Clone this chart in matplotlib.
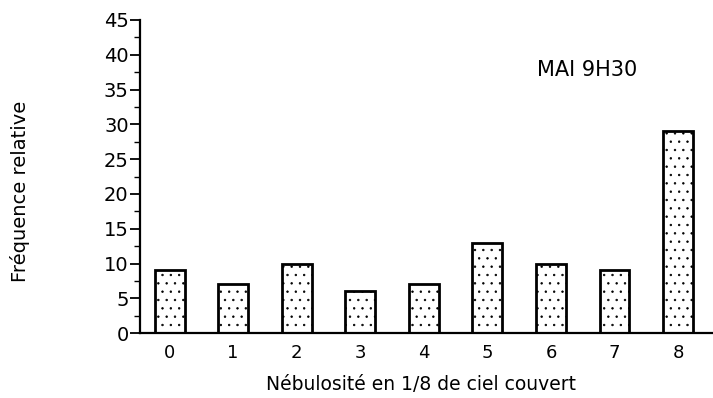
import matplotlib.pyplot as plt
import numpy as np

plt.rcParams['hatch.linewidth'] = 0.5
plt.rcParams['hatch.color'] = '#666666'

classes = ['0', '1', '2', '3', '4', '5', '6', '7', '8']
freq = [9, 7, 10, 6, 7, 13, 10, 9, 29]

fig = plt.figure(figsize=(7.13, 3.98), dpi=100)
ax = fig.add_axes([0.196, 0.163, 0.804, 0.787])

x = np.arange(len(classes))
ax.bar(x, freq, width=0.47, color='white', edgecolor='black',
       linewidth=2.0, hatch='..')

ax.set_xlim(-0.47, 8.55)
ax.set_ylim(0, 45)
ax.set_yticks(np.arange(0, 46, 5))
ax.set_yticks(np.arange(0, 46, 2.5), minor=True)
ax.set_xticks(x)
ax.set_xticklabels(classes)
ax.tick_params(axis='x', length=0, pad=8, labelsize=13)
ax.tick_params(axis='y', which='major', length=7, width=1.3, pad=1, labelsize=14)
ax.tick_params(axis='y', which='minor', length=4, width=1.0)

for s in ['top', 'right']:
    ax.spines[s].set_visible(False)
ax.spines['left'].set_linewidth(1.6)
ax.spines['bottom'].set_linewidth(1.6)

fig.text(537 / 713, 1 - 70 / 398, 'MAI 9H30', fontsize=15, va='center')
fig.text(0.014, 0.52, 'Fréquence relative', rotation=90, fontsize=14,
         ha='left', va='center')
fig.text(0.59, 0.035, 'Nébulosité en 1/8 de ciel couvert', fontsize=13.5,
         ha='center', va='center')

plt.savefig('out.png', dpi=100)
